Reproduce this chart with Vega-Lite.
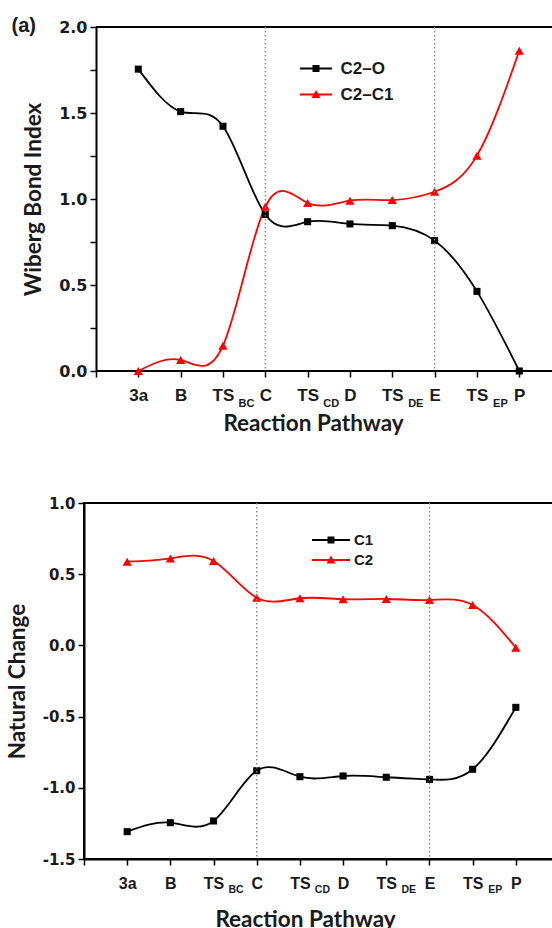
{
  "$schema": "https://vega.github.io/schema/vega-lite/v6.json",
  "padding": {"left": 5, "top": 16, "right": 0, "bottom": 0},
  "background": "white",
  "config": {
    "view": {"stroke": "black", "strokeWidth": 2},
    "axis": {"grid": false}
  },
  "spacing": 60,
  "datasets": {
    "wbi": [
      {"idx": 1, "step": "3a", "series": "C2–O", "value": 1.755},
      {"idx": 2, "step": "B", "series": "C2–O", "value": 1.508},
      {"idx": 3, "step": "TS_BC", "series": "C2–O", "value": 1.423},
      {"idx": 4, "step": "C", "series": "C2–O", "value": 0.91},
      {"idx": 5, "step": "TS_CD", "series": "C2–O", "value": 0.868},
      {"idx": 6, "step": "D", "series": "C2–O", "value": 0.855},
      {"idx": 7, "step": "TS_DE", "series": "C2–O", "value": 0.845},
      {"idx": 8, "step": "E", "series": "C2–O", "value": 0.758},
      {"idx": 9, "step": "TS_EP", "series": "C2–O", "value": 0.463},
      {"idx": 10, "step": "P", "series": "C2–O", "value": 0.0},
      {"idx": 1, "step": "3a", "series": "C2–C1", "value": 0.0},
      {"idx": 2, "step": "B", "series": "C2–C1", "value": 0.064},
      {"idx": 3, "step": "TS_BC", "series": "C2–C1", "value": 0.147},
      {"idx": 4, "step": "C", "series": "C2–C1", "value": 0.955},
      {"idx": 5, "step": "TS_CD", "series": "C2–C1", "value": 0.977},
      {"idx": 6, "step": "D", "series": "C2–C1", "value": 0.99},
      {"idx": 7, "step": "TS_DE", "series": "C2–C1", "value": 0.994},
      {"idx": 8, "step": "E", "series": "C2–C1", "value": 1.042},
      {"idx": 9, "step": "TS_EP", "series": "C2–C1", "value": 1.252},
      {"idx": 10, "step": "P", "series": "C2–C1", "value": 1.862}
    ],
    "nc": [
      {"idx": 1, "step": "3a", "series": "C1", "value": -1.308},
      {"idx": 2, "step": "B", "series": "C1", "value": -1.245},
      {"idx": 3, "step": "TS_BC", "series": "C1", "value": -1.233},
      {"idx": 4, "step": "C", "series": "C1", "value": -0.88},
      {"idx": 5, "step": "TS_CD", "series": "C1", "value": -0.922},
      {"idx": 6, "step": "D", "series": "C1", "value": -0.917},
      {"idx": 7, "step": "TS_DE", "series": "C1", "value": -0.926},
      {"idx": 8, "step": "E", "series": "C1", "value": -0.941},
      {"idx": 9, "step": "TS_EP", "series": "C1", "value": -0.87},
      {"idx": 10, "step": "P", "series": "C1", "value": -0.435},
      {"idx": 1, "step": "3a", "series": "C2", "value": 0.588},
      {"idx": 2, "step": "B", "series": "C2", "value": 0.611},
      {"idx": 3, "step": "TS_BC", "series": "C2", "value": 0.593},
      {"idx": 4, "step": "C", "series": "C2", "value": 0.335},
      {"idx": 5, "step": "TS_CD", "series": "C2", "value": 0.331},
      {"idx": 6, "step": "D", "series": "C2", "value": 0.324},
      {"idx": 7, "step": "TS_DE", "series": "C2", "value": 0.326},
      {"idx": 8, "step": "E", "series": "C2", "value": 0.319},
      {"idx": 9, "step": "TS_EP", "series": "C2", "value": 0.284},
      {"idx": 10, "step": "P", "series": "C2", "value": -0.016}
    ],
    "guides": [{"idx": 4}, {"idx": 8}],
    "frame": [{"y": 0}, {"y": 2}]
  },
  "resolve": {
    "scale": {"color": "independent"},
    "legend": {"color": "independent"}
  },
  "vconcat": [
    {
      "width": 470,
      "height": 344,
      "view": {"stroke": null},
      "title": {"text": "(a)", "anchor": "start", "frame": "group", "dx": -72.5, "dy": 33, "offset": 0, "baseline": "alphabetic", "font": "Liberation Sans", "fontSize": 20, "fontWeight": "bold", "color": "#1a1a1a"},
      "resolve": {"axis": {"x": "independent"}},
      "layer": [
        {
          "data": {"name": "frame"},
          "mark": {"type": "rule", "color": "black", "strokeWidth": 2},
          "encoding": {
            "x": {"datum": 0, "type": "quantitative", "axis": null},
            "x2": {"datum": 10.82},
            "y": {"field": "y", "type": "quantitative"}
          }
        },
        {
          "data": {"name": "wbi"},
          "mark": {"type": "line", "interpolate": "natural", "strokeWidth": 1.8},
          "encoding": {
            "x": {"field": "idx", "type": "quantitative", "scale": {"domain": [-0.283, 10.82], "nice": false, "zero": false},
              "axis": {"orient": "bottom", "values": [0,1,2,3,4,5,6,7,8,9,10], "labelExpr": "['','3a','B','TS','C','TS','D','TS','E','TS','P',''][datum.value]",
                "title": "Reaction Pathway", "titleX": 229, "titleFont": "Lato", "titleFontWeight": "bold", "titleFontSize": 22.5, "titleColor": "#1a1a1a", "titlePadding": 9,
                "domain": false, "tickSize": 6, "tickWidth": 1.5, "tickColor": "black",
                "labelFont": "Liberation Sans", "labelFontWeight": "bold", "labelFontSize": 17, "labelColor": "#1a1a1a", "labelPadding": 10, "labelOverlap": false, "labelBound": false, "labelFlush": false}},
            "y": {"field": "value", "type": "quantitative", "scale": {"domain": [0, 2], "nice": false, "zero": false},
              "axis": {"offset": -12, "values": [0,0.25,0.5,0.75,1,1.25,1.5,1.75,2], "labelExpr": "abs(datum.value*2 - round(datum.value*2)) < 0.001 ? format(datum.value, '.1f') : ''",
                "title": "Wiberg Bond Index", "titleFont": "Lato", "titleFontWeight": "bold", "titleFontSize": 22.5, "titleColor": "#1a1a1a", "titlePadding": 13,
                "tickSize": 6, "tickWidth": 1.5, "tickColor": "black", "domainColor": "black", "domainWidth": 2,
                "labelFont": "DejaVu Sans", "labelFontWeight": "bold", "labelFontSize": 16, "labelColor": "#1a1a1a", "labelPadding": 3, "labelOverlap": false, "labelBound": false, "labelFlush": false}},
            "color": {"field": "series", "type": "nominal", "scale": {"domain": ["C2–O", "C2–C1"], "range": ["black", "red"]},
              "legend": {"orient": "none", "legendX": 223.5, "legendY": 33, "title": null, "padding": 0,
                "labelFont": "Liberation Sans", "labelFontWeight": "bold", "labelFontSize": 17, "labelColor": "#1a1a1a", "labelOffset": 16, "rowPadding": 8, "symbolSize": 256,
                "encode": {"symbols": {"update": {
                  "shape": {"signal": "datum.value === 'C2–O' ? 'M-2,-0.125H2V0.125H-2Z M-0.4375,-0.4375H0.4375V0.4375H-0.4375Z' : 'M-2,-0.125H2V0.125H-2Z M0,-0.5625L0.5625,0.4375H-0.5625Z'"},
                  "fill": {"signal": "datum.value === 'C2–O' ? 'black' : 'red'"},
                  "strokeWidth": {"value": 0}, "opacity": {"value": 1}}}}}}
          }
        },
        {
          "data": {"name": "wbi"},
          "transform": [{"filter": "datum.series === 'C2–O'"}],
          "mark": {"type": "point", "shape": "square", "filled": true, "opacity": 1, "color": "black", "size": 50},
          "encoding": {
            "x": {"field": "idx", "type": "quantitative",
              "axis": {"orient": "bottom", "values": [3,5,7,9], "labelExpr": "['','','','BC','','CD','','DE','','EP'][datum.value]", "title": null,
                "ticks": false, "tickSize": 0, "domain": false, "labelPadding": 26, "labelOffset": 23,
                "labelFont": "Liberation Sans", "labelFontWeight": "bold", "labelFontSize": 11, "labelColor": "#1a1a1a", "labelOverlap": false, "labelBound": false, "labelFlush": false}},
            "y": {"field": "value", "type": "quantitative"}
          }
        },
        {
          "data": {"name": "wbi"},
          "transform": [{"filter": "datum.series === 'C2–C1'"}],
          "mark": {"type": "point", "shape": "triangle-up", "filled": true, "opacity": 1, "color": "red", "size": 85},
          "encoding": {
            "x": {"field": "idx", "type": "quantitative", "axis": null},
            "y": {"field": "value", "type": "quantitative"}
          }
        },
        {
          "data": {"name": "guides"},
          "mark": {"type": "rule", "color": "#808080", "strokeWidth": 1.3, "strokeDash": [1.5, 2.5]},
          "encoding": {"x": {"field": "idx", "type": "quantitative", "axis": null}}
        }
      ]
    },
    {
      "width": 475,
      "height": 356,
      "resolve": {"axis": {"x": "independent"}},
      "layer": [
        {
          "data": {"name": "nc"},
          "mark": {"type": "line", "interpolate": "natural", "strokeWidth": 1.8},
          "encoding": {
            "x": {"field": "idx", "type": "quantitative", "scale": {"domain": [0, 11], "nice": false, "zero": false},
              "axis": {"orient": "bottom", "values": [0,1,2,3,4,5,6,7,8,9,10,11], "labelExpr": "['','3a','B','TS','C','TS','D','TS','E','TS','P',''][datum.value]",
                "title": "Reaction Pathway", "titleX": 221, "titleFont": "Lato", "titleFontWeight": "bold", "titleFontSize": 22.5, "titleColor": "#1a1a1a", "titlePadding": 17,
                "tickSize": 6, "tickWidth": 1.5, "tickColor": "black", "domainColor": "black", "domainWidth": 2,
                "labelFont": "Liberation Sans", "labelFontWeight": "bold", "labelFontSize": 16, "labelColor": "#1a1a1a", "labelPadding": 10, "labelOverlap": false, "labelBound": false, "labelFlush": false}},
            "y": {"field": "value", "type": "quantitative", "scale": {"domain": [-1.5, 1], "nice": false, "zero": false},
              "axis": {"values": [-1.5,-1.25,-1,-0.75,-0.5,-0.25,0,0.25,0.5,0.75,1], "labelExpr": "abs(datum.value*2 - round(datum.value*2)) < 0.001 ? (datum.value < 0 ? '-' : '') + format(abs(datum.value), '.1f') : ''",
                "title": "Natural Change", "titleFont": "Lato", "titleFontWeight": "bold", "titleFontSize": 22.5, "titleColor": "#1a1a1a", "titlePadding": 13,
                "tickSize": 6, "tickWidth": 1.5, "tickColor": "black", "domainColor": "black", "domainWidth": 2,
                "labelFont": "DejaVu Sans", "labelFontWeight": "bold", "labelFontSize": 15, "labelColor": "#1a1a1a", "labelPadding": 3, "labelOverlap": false, "labelBound": false, "labelFlush": false}},
            "color": {"field": "series", "type": "nominal", "scale": {"domain": ["C1", "C2"], "range": ["black", "red"]},
              "legend": {"orient": "none", "legendX": 239, "legendY": 29, "title": null, "padding": 0,
                "labelFont": "Liberation Sans", "labelFontWeight": "bold", "labelFontSize": 15, "labelColor": "#1a1a1a", "labelOffset": 15, "rowPadding": 4, "symbolSize": 256,
                "encode": {"symbols": {"update": {
                  "shape": {"signal": "datum.value === 'C1' ? 'M-2.375,-0.125H2.375V0.125H-2.375Z M-0.4375,-0.4375H0.4375V0.4375H-0.4375Z' : 'M-2.375,-0.125H2.375V0.125H-2.375Z M0,-0.5625L0.5625,0.4375H-0.5625Z'"},
                  "fill": {"signal": "datum.value === 'C1' ? 'black' : 'red'"},
                  "strokeWidth": {"value": 0}, "opacity": {"value": 1}}}}}}
          }
        },
        {
          "data": {"name": "nc"},
          "transform": [{"filter": "datum.series === 'C1'"}],
          "mark": {"type": "point", "shape": "square", "filled": true, "opacity": 1, "color": "black", "size": 50},
          "encoding": {
            "x": {"field": "idx", "type": "quantitative",
              "axis": {"orient": "bottom", "values": [3,5,7,9], "labelExpr": "['','','','BC','','CD','','DE','','EP'][datum.value]", "title": null,
                "ticks": false, "tickSize": 0, "domain": false, "labelPadding": 25, "labelOffset": 22,
                "labelFont": "Liberation Sans", "labelFontWeight": "bold", "labelFontSize": 10.5, "labelColor": "#1a1a1a", "labelOverlap": false, "labelBound": false, "labelFlush": false}},
            "y": {"field": "value", "type": "quantitative"}
          }
        },
        {
          "data": {"name": "nc"},
          "transform": [{"filter": "datum.series === 'C2'"}],
          "mark": {"type": "point", "shape": "triangle-up", "filled": true, "opacity": 1, "color": "red", "size": 85},
          "encoding": {
            "x": {"field": "idx", "type": "quantitative", "axis": null},
            "y": {"field": "value", "type": "quantitative"}
          }
        },
        {
          "data": {"name": "guides"},
          "mark": {"type": "rule", "color": "#808080", "strokeWidth": 1.3, "strokeDash": [1.5, 2.5]},
          "encoding": {"x": {"field": "idx", "type": "quantitative", "axis": null}}
        }
      ]
    }
  ]
}
